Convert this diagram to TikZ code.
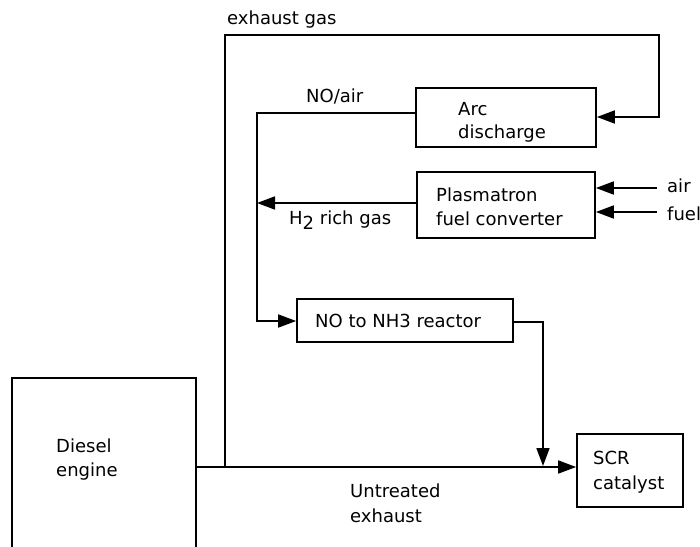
\documentclass[tikz,border=0pt]{standalone}
\usepackage{fontspec}
\setmainfont{DejaVu Sans}
\usetikzlibrary{arrows.meta,calc}
\begin{document}
\begin{tikzpicture}[x=1pt,y=-1pt,
  every node/.style={font=\fontsize{18}{24}\selectfont},
  box/.style={draw,line width=1.7pt,inner sep=0pt,anchor=center},
  lbl/.style={anchor=base west,inner sep=0pt,align=left},
  ln/.style={line width=1.7pt},
  arr/.style={line width=1.7pt,-{Triangle[length=18pt,width=13pt]}}]
\useasboundingbox[fill=white] (0,0) rectangle (700,546);
% boxes
\node[box,minimum width=180pt,minimum height=59pt] (arc) at (506,117.5) {};
\node[box,minimum width=178pt,minimum height=66pt] (plas) at (506,205) {};
\node[box,minimum width=216pt,minimum height=43pt] (nh3) at (405,320.5) {};
\node[box,minimum width=106pt,minimum height=73pt] (scr) at (630,470.5) {};
\node[box,minimum width=184pt,minimum height=190pt] (eng) at (104,473) {};
% texts
\node[lbl] (tarc) at (458,115) {Arc};
\node[lbl] (tdis) at (458,138) {discharge};
\node[lbl] (tpl) at (436,201) {Plasmatron};
\node[lbl] (tfc) at (436,225) {fuel converter};
\node[lbl] (tnh) at (315,327) {NO to NH3 reactor};
\node[lbl] (tscr) at (593,464) {SCR};
\node[lbl] (tcat) at (593,489) {catalyst};
\node[lbl] (tdie) at (56,452) {Diesel};
\node[lbl] (teng) at (56,476) {engine};
\node[lbl] (tex) at (227,24) {exhaust gas};
\node[lbl] (tno) at (306,102) {NO/air};
\node[lbl] (th2) at (289,224) {H\raisebox{-5pt}{2} rich gas};
\node[lbl] (tun) at (350,497) {Untreated};
\node[lbl] (tue) at (350,522) {exhaust};
\node[lbl] (tair) at (667,192) {air};
\node[lbl] (tfuel) at (667,220) {fuel};
% coordinates
\coordinate (j1) at (225,467);
\coordinate (c1) at (225,35);
\coordinate (c2) at (659,35);
\coordinate (c3) at (659,117);
\coordinate (v1) at (257,113);
\coordinate (v2) at (257,203);
\coordinate (v3) at (257,321);
\coordinate (r1) at (543,322);
\coordinate (r2) at (543,467);
\coordinate (sa) at (657,188);
\coordinate (sf) at (657,212);
% connectors
\draw[arr] (eng.east |- j1) -- (scr.west |- j1);
\draw[arr,line join=miter] (j1) -- (c1) -- (c2) -- (c3) -- (arc.east |- c3);
\draw[arr,line join=miter] (arc.west |- v1) -- (v1) -- (v3) -- (nh3.west |- v3);
\draw[arr] (plas.west |- v2) -- (v2);
\draw[arr,line join=miter] (nh3.east |- r1) -- (r1) -- ([yshift=1pt]r2);
\draw[arr] (sa) -- (plas.east |- sa);
\draw[arr] (sf) -- (plas.east |- sf);
\end{tikzpicture}
\end{document}
